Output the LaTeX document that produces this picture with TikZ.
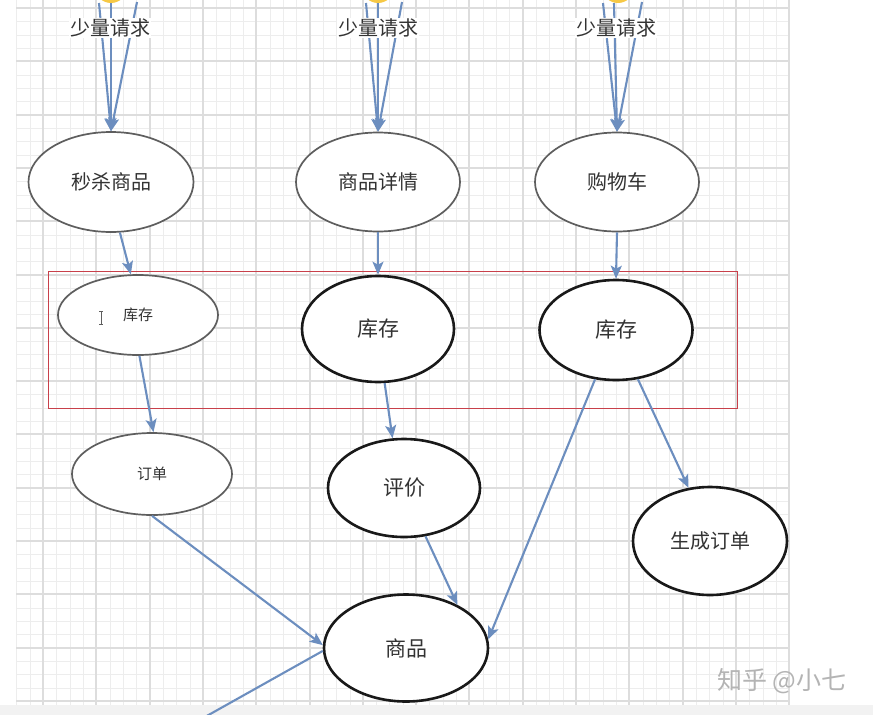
\documentclass[tikz,border=0pt]{standalone}
\usepackage{fontspec}
\setmainfont{Noto Sans CJK SC}
\usetikzlibrary{arrows.meta,backgrounds,shapes.geometric}
\definecolor{gridmaj}{HTML}{DDDDDD}
\definecolor{gridmin}{HTML}{EDEDED}
\definecolor{arrblue}{HTML}{6C8EBF}
\definecolor{ellgray}{HTML}{5E5E5E}
\definecolor{txt}{HTML}{333333}
\definecolor{frameRed}{HTML}{C8404A}
\definecolor{sun}{HTML}{F6C845}
\definecolor{wm}{HTML}{B4B4B4}
\newcommand\myfs[1]{\fontsize{#1}{#1}\selectfont}
\begin{document}
\begin{tikzpicture}[x=1pt,y=-1pt,
  gell/.style={ellipse, draw=ellgray, line width=1.7pt, fill=white, inner sep=0pt, text=txt},
  bell/.style={ellipse, draw=black!90, line width=2.6pt, fill=white, inner sep=0pt, text=txt},
  arr/.style={draw=arrblue, line width=2.1pt, -{Stealth[length=13pt,width=11pt,inset=3pt]}},
  plainarr/.style={draw=arrblue, line width=2.1pt},
  req/.style={fill=white, inner sep=1pt, text=txt, font=\myfs{20}},
  sunc/.style={circle, fill=sun, minimum size=32pt, inner sep=0pt}]
\useasboundingbox (0,0) rectangle (873,715);
\clip (0,0) rectangle (873,715);
\begin{scope}[on background layer]
  \fill[white] (0,0) rectangle (873,715);
  \foreach \i in {0,...,58} \draw[gridmin, line width=1pt] ({round(16.4+\i*13.325)+0.5},0) -- ({round(16.4+\i*13.325)+0.5},705);
  \foreach \i in {0,...,52} \draw[gridmin, line width=1pt] (16,{round(8+\i*13.325)+0.5}) -- (790,{round(8+\i*13.325)+0.5});
  \foreach \i in {0,...,14} \draw[gridmaj, line width=2pt] ({round(43.05+\i*53.3)},0) -- ({round(43.05+\i*53.3)},705);
  \foreach \i in {0,...,13} \draw[gridmaj, line width=2pt] (16,{round(8+\i*53.3)}) -- (790,{round(8+\i*53.3)});
  \fill[black!5] (0,705) rectangle (873,715);
\end{scope}

% top request sources
\node[sunc] (s1) at (111,-13) {};
\node[sunc] (s2) at (378,-13) {};
\node[sunc] (s3) at (618,-13) {};
\node[req] (r1) at (110,28) {少量请求};
\node[req] (r2) at (378,28) {少量请求};
\node[req] (r3) at (616,28) {少量请求};

% row 1
\node[gell, minimum width=165pt, minimum height=100pt, font=\myfs{20}] (e1) at (111,182) {秒杀商品};
\node[gell, minimum width=164pt, minimum height=99pt, font=\myfs{20}] (e2) at (378,182) {商品详情};
\node[gell, minimum width=164pt, minimum height=99pt, font=\myfs{20}] (e3) at (617,182) {购物车};

% row 2
\node[gell, minimum width=160pt, minimum height=80pt, font=\myfs{15}] (k1) at (138,315) {库存};
\node[bell, minimum width=152pt, minimum height=106pt, font=\myfs{21}] (k2) at (378,329) {库存};
\node[bell, minimum width=153pt, minimum height=100pt, font=\myfs{21}] (k3) at (616,330) {库存};

% row 3
\node[gell, minimum width=160pt, minimum height=82pt, font=\myfs{15}] (o1) at (152,474) {订单};
\node[bell, minimum width=152pt, minimum height=98pt, font=\myfs{21}] (p2) at (404,488) {评价};
\node[bell, minimum width=154pt, minimum height=108pt, font=\myfs{20}] (g3) at (710,541) {生成订单};

% row 4
\node[bell, minimum width=164pt, minimum height=107pt, font=\myfs{21}] (sp) at (406,648) {商品};

% text cursor in k1
\draw[ellgray, line width=1pt] (99,311) -- (103,311) (101,311) -- (101,324) (99,324) -- (103,324);

% red frame
\draw[frameRed, line width=0.9pt] (48,271) rectangle (737,408);

% request lines (behind labels)
\coordinate (a1) at (99,3);  \coordinate (b1) at (111,3); \coordinate (c1) at (137,2);
\coordinate (a2) at (366,3); \coordinate (b2) at (378,3); \coordinate (c2) at (402,2);
\coordinate (a3) at (603,3); \coordinate (b3) at (614,3); \coordinate (c3) at (642,2);
\begin{scope}[on background layer]
  \foreach \s in {a1,b1,c1} \draw[arr] (\s) -- (e1.north);
  \foreach \s in {a2,b2,c2} \draw[arr] (\s) -- (e2.north);
  \foreach \s in {a3,b3,c3} \draw[arr] (\s) -- (e3.north);
\end{scope}

% connectors
\draw[arr] (e1.-80) -- (k1.100);
\draw[arr] (e2.south) -- (k2.north);
\draw[arr] (e3.south) -- (k3.north);
\draw[arr] (k1.-88) -- (o1.88);
\draw[arr] (k2.-83) -- (p2.103);
\draw[arr] (k3.-113) -- (sp.6);
\draw[arr] (k3.-66) -- (g3.112);
\draw[arr] (o1.-90) -- (sp.178);
\draw[arr] (p2.-66) -- (sp.40);
\coordinate (out) at (196,722);
\draw[plainarr] (sp.182) -- (out);

% watermark
\node[text=wm, font=\myfs{25}] (wmk) at (782,681) {知乎 @小七};
\end{tikzpicture}
\end{document}
